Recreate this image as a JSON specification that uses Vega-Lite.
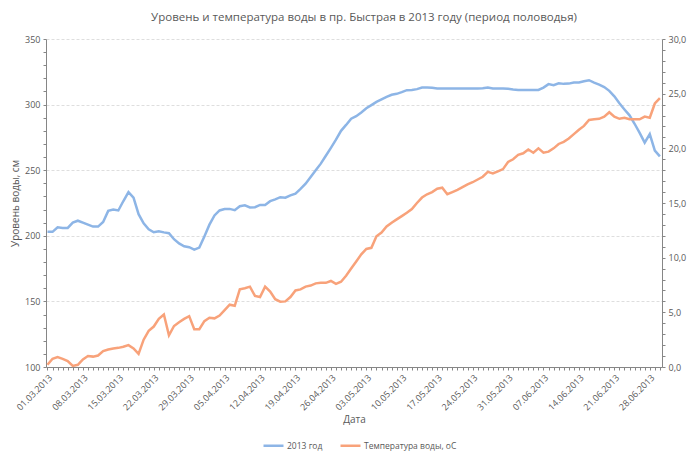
{
  "$schema": "https://vega.github.io/schema/vega-lite/v6.json",
  "width": 616,
  "height": 328,
  "autosize": "none",
  "padding": {"left": 46, "top": 39, "right": 38, "bottom": 98},
  "background": "white",
  "config": {"view": {"stroke": null}, "font": "Open Sans"},
  "title": {"text": "Уровень и температура воды в пр. Быстрая в 2013 году (период половодья)", "fontSize": 11.5, "fontWeight": "normal", "color": "#595959", "anchor": "middle", "offset": 12, "dx": 10},
  "data": {"values": [
    {"date": "2013-03-01", "level": 203, "temp": 0.2},
    {"date": "2013-03-02", "level": 203, "temp": 0.75},
    {"date": "2013-03-03", "level": 206.5, "temp": 0.9},
    {"date": "2013-03-04", "level": 206, "temp": 0.75},
    {"date": "2013-03-05", "level": 206, "temp": 0.55},
    {"date": "2013-03-06", "level": 210, "temp": 0.1},
    {"date": "2013-03-07", "level": 211.5, "temp": 0.2},
    {"date": "2013-03-08", "level": 210, "temp": 0.7},
    {"date": "2013-03-09", "level": 208.5, "temp": 1.0},
    {"date": "2013-03-10", "level": 207, "temp": 0.95},
    {"date": "2013-03-11", "level": 207, "temp": 1.05},
    {"date": "2013-03-12", "level": 210.5, "temp": 1.45},
    {"date": "2013-03-13", "level": 219, "temp": 1.6},
    {"date": "2013-03-14", "level": 220, "temp": 1.7},
    {"date": "2013-03-15", "level": 219.3, "temp": 1.75},
    {"date": "2013-03-16", "level": 226.5, "temp": 1.85},
    {"date": "2013-03-17", "level": 233.3, "temp": 2.0},
    {"date": "2013-03-18", "level": 229, "temp": 1.7},
    {"date": "2013-03-19", "level": 216.5, "temp": 1.2},
    {"date": "2013-03-20", "level": 209.5, "temp": 2.5},
    {"date": "2013-03-21", "level": 205, "temp": 3.3},
    {"date": "2013-03-22", "level": 202.7, "temp": 3.7},
    {"date": "2013-03-23", "level": 203.5, "temp": 4.4},
    {"date": "2013-03-24", "level": 202.6, "temp": 4.8},
    {"date": "2013-03-25", "level": 202, "temp": 2.9},
    {"date": "2013-03-26", "level": 197.4, "temp": 3.75},
    {"date": "2013-03-27", "level": 194.2, "temp": 4.1},
    {"date": "2013-03-28", "level": 192, "temp": 4.4},
    {"date": "2013-03-29", "level": 191.3, "temp": 4.65},
    {"date": "2013-03-30", "level": 189.5, "temp": 3.45},
    {"date": "2013-03-31", "level": 191, "temp": 3.45},
    {"date": "2013-04-01", "level": 199.5, "temp": 4.2},
    {"date": "2013-04-02", "level": 208.5, "temp": 4.5},
    {"date": "2013-04-03", "level": 215.5, "temp": 4.45},
    {"date": "2013-04-04", "level": 219.3, "temp": 4.7},
    {"date": "2013-04-05", "level": 220.4, "temp": 5.2},
    {"date": "2013-04-06", "level": 220.5, "temp": 5.7},
    {"date": "2013-04-07", "level": 219.5, "temp": 5.6},
    {"date": "2013-04-08", "level": 222.5, "temp": 7.1},
    {"date": "2013-04-09", "level": 223.2, "temp": 7.2},
    {"date": "2013-04-10", "level": 221.6, "temp": 7.35},
    {"date": "2013-04-11", "level": 221.8, "temp": 6.5},
    {"date": "2013-04-12", "level": 223.5, "temp": 6.4},
    {"date": "2013-04-13", "level": 223.5, "temp": 7.35},
    {"date": "2013-04-14", "level": 226.4, "temp": 6.9},
    {"date": "2013-04-15", "level": 227.7, "temp": 6.2},
    {"date": "2013-04-16", "level": 229.4, "temp": 5.97},
    {"date": "2013-04-17", "level": 229, "temp": 6.0},
    {"date": "2013-04-18", "level": 230.8, "temp": 6.4},
    {"date": "2013-04-19", "level": 232.2, "temp": 7.0},
    {"date": "2013-04-20", "level": 235.7, "temp": 7.1},
    {"date": "2013-04-21", "level": 239.7, "temp": 7.35},
    {"date": "2013-04-22", "level": 244.9, "temp": 7.45},
    {"date": "2013-04-23", "level": 250, "temp": 7.65},
    {"date": "2013-04-24", "level": 255, "temp": 7.7},
    {"date": "2013-04-25", "level": 261, "temp": 7.7},
    {"date": "2013-04-26", "level": 267, "temp": 7.87},
    {"date": "2013-04-27", "level": 273.3, "temp": 7.6},
    {"date": "2013-04-28", "level": 280, "temp": 7.8},
    {"date": "2013-04-29", "level": 284.5, "temp": 8.35},
    {"date": "2013-04-30", "level": 289.3, "temp": 9.0},
    {"date": "2013-05-01", "level": 291.2, "temp": 9.65},
    {"date": "2013-05-02", "level": 294, "temp": 10.3},
    {"date": "2013-05-03", "level": 297.2, "temp": 10.8},
    {"date": "2013-05-04", "level": 299.6, "temp": 10.9},
    {"date": "2013-05-05", "level": 302.1, "temp": 11.95},
    {"date": "2013-05-06", "level": 304, "temp": 12.3},
    {"date": "2013-05-07", "level": 305.9, "temp": 12.85},
    {"date": "2013-05-08", "level": 307.5, "temp": 13.2},
    {"date": "2013-05-09", "level": 308.2, "temp": 13.5},
    {"date": "2013-05-10", "level": 309.5, "temp": 13.8},
    {"date": "2013-05-11", "level": 311, "temp": 14.1},
    {"date": "2013-05-12", "level": 311.1, "temp": 14.45},
    {"date": "2013-05-13", "level": 311.8, "temp": 15.0},
    {"date": "2013-05-14", "level": 313, "temp": 15.5},
    {"date": "2013-05-15", "level": 313, "temp": 15.8},
    {"date": "2013-05-16", "level": 312.8, "temp": 16.0},
    {"date": "2013-05-17", "level": 312.3, "temp": 16.3},
    {"date": "2013-05-18", "level": 312.3, "temp": 16.4},
    {"date": "2013-05-19", "level": 312.3, "temp": 15.8},
    {"date": "2013-05-20", "level": 312.3, "temp": 16.0},
    {"date": "2013-05-21", "level": 312.3, "temp": 16.2},
    {"date": "2013-05-22", "level": 312.3, "temp": 16.45},
    {"date": "2013-05-23", "level": 312.3, "temp": 16.7},
    {"date": "2013-05-24", "level": 312.3, "temp": 16.9},
    {"date": "2013-05-25", "level": 312.3, "temp": 17.15},
    {"date": "2013-05-26", "level": 312.5, "temp": 17.4},
    {"date": "2013-05-27", "level": 313, "temp": 17.85},
    {"date": "2013-05-28", "level": 312.3, "temp": 17.7},
    {"date": "2013-05-29", "level": 312.2, "temp": 17.9},
    {"date": "2013-05-30", "level": 312.2, "temp": 18.1},
    {"date": "2013-05-31", "level": 312, "temp": 18.75},
    {"date": "2013-06-01", "level": 311.5, "temp": 19.0},
    {"date": "2013-06-02", "level": 311.2, "temp": 19.4},
    {"date": "2013-06-03", "level": 311.2, "temp": 19.55},
    {"date": "2013-06-04", "level": 311.2, "temp": 19.9},
    {"date": "2013-06-05", "level": 311.2, "temp": 19.6},
    {"date": "2013-06-06", "level": 311.2, "temp": 20.0},
    {"date": "2013-06-07", "level": 313, "temp": 19.6},
    {"date": "2013-06-08", "level": 315.6, "temp": 19.7},
    {"date": "2013-06-09", "level": 314.8, "temp": 20.0},
    {"date": "2013-06-10", "level": 316.3, "temp": 20.4},
    {"date": "2013-06-11", "level": 315.8, "temp": 20.6},
    {"date": "2013-06-12", "level": 316, "temp": 20.9},
    {"date": "2013-06-13", "level": 316.9, "temp": 21.3},
    {"date": "2013-06-14", "level": 316.9, "temp": 21.7},
    {"date": "2013-06-15", "level": 317.8, "temp": 22.05},
    {"date": "2013-06-16", "level": 318.6, "temp": 22.6},
    {"date": "2013-06-17", "level": 316.8, "temp": 22.66},
    {"date": "2013-06-18", "level": 315.3, "temp": 22.7},
    {"date": "2013-06-19", "level": 313.4, "temp": 22.9},
    {"date": "2013-06-20", "level": 310.5, "temp": 23.3},
    {"date": "2013-06-21", "level": 306.3, "temp": 22.9},
    {"date": "2013-06-22", "level": 301, "temp": 22.7},
    {"date": "2013-06-23", "level": 296.3, "temp": 22.8},
    {"date": "2013-06-24", "level": 291.8, "temp": 22.66},
    {"date": "2013-06-25", "level": 285.4, "temp": 22.66},
    {"date": "2013-06-26", "level": 278.5, "temp": 22.66},
    {"date": "2013-06-27", "level": 271, "temp": 22.9},
    {"date": "2013-06-28", "level": 277.5, "temp": 22.8},
    {"date": "2013-06-29", "level": 265, "temp": 24.1},
    {"date": "2013-06-30", "level": 260.5, "temp": 24.6}
  ]},
  "encoding": {
    "x": {
      "field": "date",
      "type": "temporal",
      "scale": {"type": "utc", "domain": [
        {"year": 2013, "month": "feb", "date": 28, "hours": 17, "utc": true},
        {"year": 2013, "month": "jun", "date": 30, "hours": 10, "utc": true}
      ]},
      "title": "Дата",
      "axis": {
        "tickCount": {"interval": "day", "step": 1},
        "labelExpr": "round((datum.value - 1362096000000) / 86400000) % 7 === 0 ? utcFormat(datum.value, '%d.%m.%Y') : ''",
        "labelOverlap": false,
        "labelAngle": -45,
        "labelFontSize": 9,
        "labelColor": "#595959",
        "labelPadding": 3,
        "tickSize": 3,
        "tickColor": "#868686",
        "domainColor": "#868686",
        "grid": false,
        "titleFontSize": 10,
        "titleFontWeight": "normal",
        "titleColor": "#595959",
        "titlePadding": 3
      }
    }
  },
  "layer": [
    {
      "mark": {"type": "line", "strokeWidth": 2.5, "interpolate": "linear"},
      "encoding": {
        "y": {
          "field": "level",
          "type": "quantitative",
          "scale": {"domain": [100, 350], "nice": false, "zero": false},
          "title": "Уровень воды, см",
          "axis": {
            "values": [100,110,120,130,140,150,160,170,180,190,200,210,220,230,240,250,260,270,280,290,300,310,320,330,340,350],
            "labelExpr": "datum.value % 50 === 0 ? datum.label : ''",
            "labelFontSize": 9,
            "labelColor": "#595959",
            "labelPadding": 3,
            "tickSize": 3,
            "tickColor": "#868686",
            "domainColor": "#868686",
            "grid": true,
            "gridColor": "#dedede",
            "gridDash": [3, 2],
            "gridOpacity": {"condition": {"test": "datum.value % 50 === 0 && datum.value > 100", "value": 1}, "value": 0},
            "titleFontSize": 10,
            "titleFontWeight": "normal",
            "titleColor": "#595959",
            "titlePadding": 4
          }
        },
        "color": {
          "datum": "2013 год",
          "scale": {"domain": ["2013 год", "Температура воды, оС"], "range": ["#8db5e6", "#f8a27a"]},
          "legend": {
            "orient": "none",
            "legendX": 216,
            "legendY": 395,
            "direction": "horizontal",
            "title": null,
            "symbolType": "stroke",
            "symbolSize": 400,
            "symbolStrokeWidth": 2.5,
            "labelFontSize": 8.5,
            "labelColor": "#595959",
            "labelOffset": 2,
            "columnPadding": 12
          }
        }
      }
    },
    {
      "mark": {"type": "line", "strokeWidth": 2.5, "interpolate": "linear"},
      "encoding": {
        "y": {
          "field": "temp",
          "type": "quantitative",
          "scale": {"domain": [0, 30], "nice": false},
          "title": null,
          "axis": {
            "orient": "right",
            "values": [0,1,2,3,4,5,6,7,8,9,10,11,12,13,14,15,16,17,18,19,20,21,22,23,24,25,26,27,28,29,30],
            "labelExpr": "datum.value % 5 === 0 ? replace(format(datum.value, '.1f'), '.', ',') : ''",
            "labelFontSize": 9,
            "labelColor": "#595959",
            "labelPadding": 3,
            "tickSize": 3,
            "tickColor": "#868686",
            "domainColor": "#868686",
            "grid": false
          }
        },
        "color": {"datum": "Температура воды, оС"}
      }
    }
  ],
  "resolve": {"scale": {"y": "independent"}}
}
